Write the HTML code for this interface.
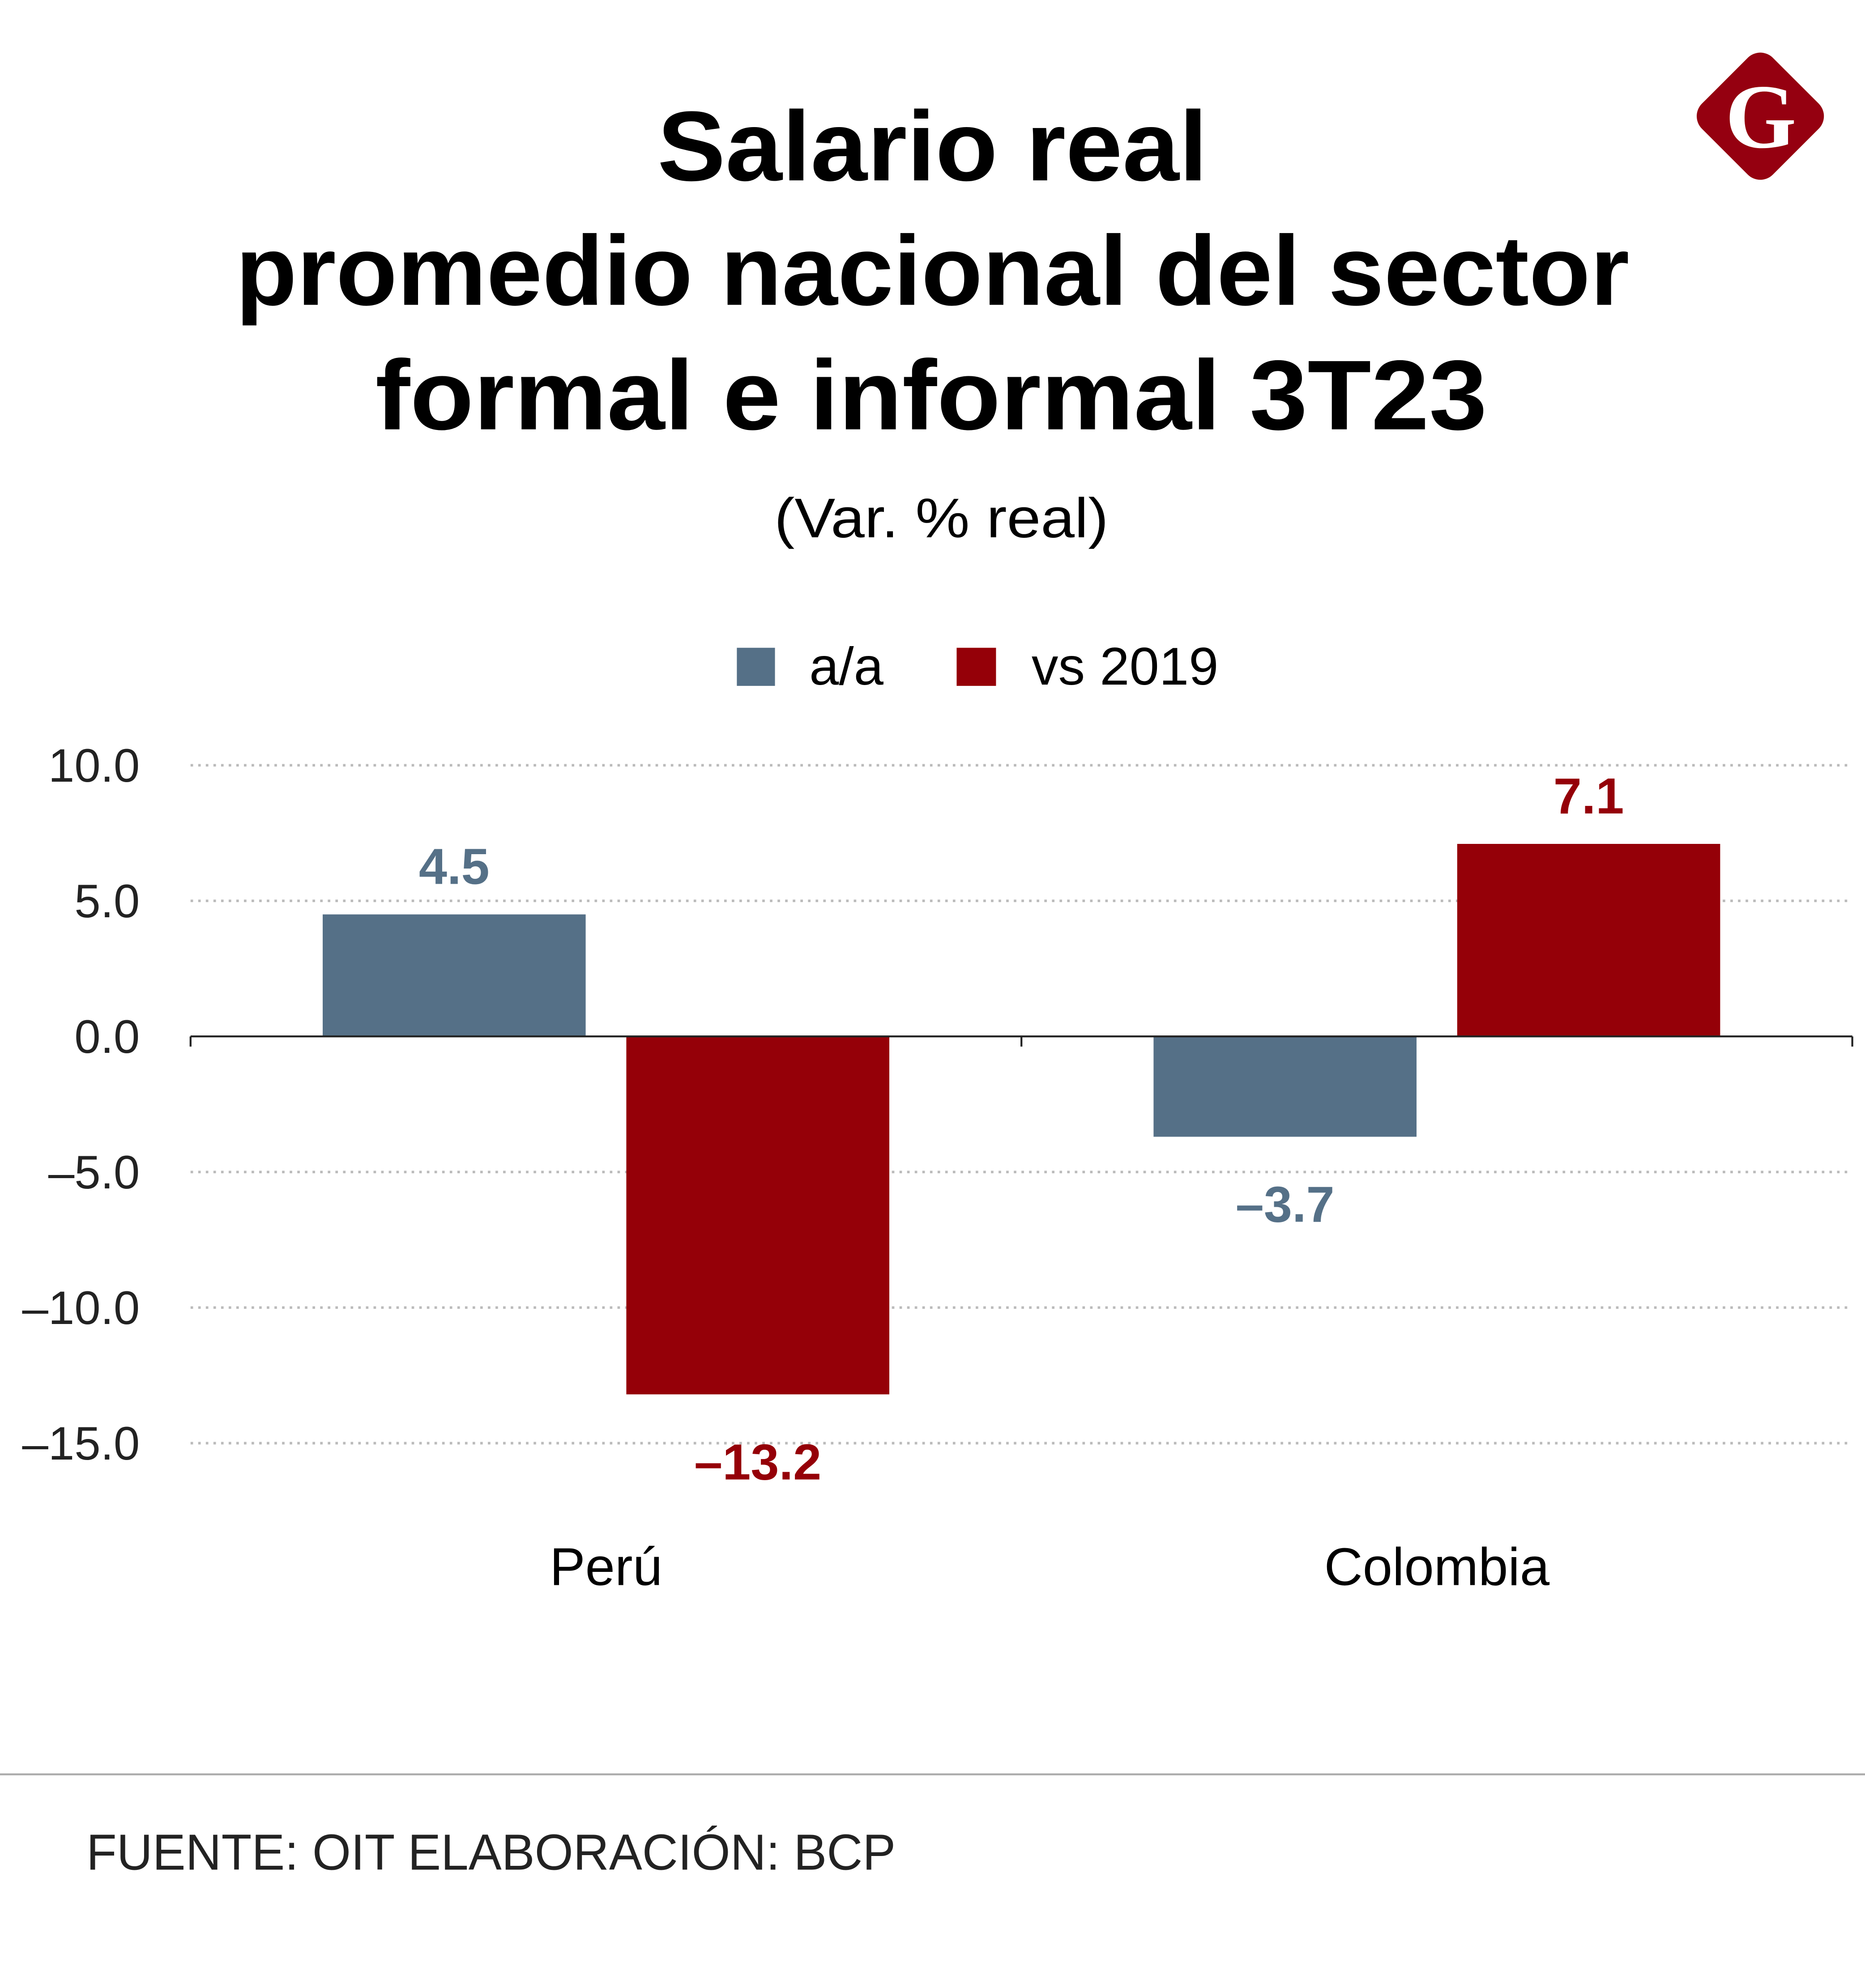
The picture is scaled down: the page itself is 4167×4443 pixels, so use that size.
<!DOCTYPE html>
<html><head><meta charset="utf-8"><style>
html,body{margin:0;padding:0;background:#fff}
svg{display:block}
text{font-family:"Liberation Sans",sans-serif}
</style></head><body>
<svg id="chart" width="4167" height="4443" viewBox="0 0 1468 1565.2" xmlns="http://www.w3.org/2000/svg">
<rect width="1468" height="1565.2" fill="#fff"/>
<g>
<rect x="1346" y="52" width="79" height="79" rx="14" fill="#950010" transform="rotate(45 1385.6 91.6)"/>
<text x="1386" y="116" text-anchor="middle" font-family="Liberation Serif,serif" font-weight="bold" font-size="72" fill="#fff" style="font-family:'Liberation Serif',serif">G</text>
</g>
<g font-weight="bold" fill="#000" text-anchor="middle">
<text x="734" y="142" font-size="78" textLength="433" lengthAdjust="spacingAndGlyphs">Salario real</text>
<text x="734" y="240" font-size="78" textLength="1097" lengthAdjust="spacingAndGlyphs">promedio nacional del sector</text>
<text x="733" y="338" font-size="78" textLength="875" lengthAdjust="spacingAndGlyphs">formal e informal 3T23</text>
</g>
<text x="741" y="423" font-size="44" text-anchor="middle" textLength="263" lengthAdjust="spacingAndGlyphs">(Var. % real)</text>
<g font-size="42">
<g><rect x="580" y="510" width="30" height="30" fill="#557087"/><text x="637" y="539">a/a</text></g>
<g><rect x="753" y="510" width="31" height="30" fill="#950008"/><text x="812" y="539">vs 2019</text></g>
</g>
<g id="plot"></g>
<line x1="0" y1="1397" x2="1468" y2="1397" stroke="#aaa" stroke-width="1.5"/>
<text x="68" y="1472" font-size="40" fill="#222" textLength="637" lengthAdjust="spacingAndGlyphs">FUENTE: OIT  ELABORACIÓN: BCP</text>
</svg>
<script>
const categories = ["Perú", "Colombia"];
const seriesAA = [4.5, -3.7];
const seriesVS = [-13.2, 7.1];
const yTicks = [10, 5, 0, -5, -10, -15];
const yTickLabels = ["10.0", "5.0", "0.0", "-5.0", "-10.0", "-15.0"];

const NS = "http://www.w3.org/2000/svg";
const plot = document.getElementById('plot');
const x0 = 150, x1 = 1458;
const y = v => 816 - v * 21.35;
const groupW = (x1 - x0) / categories.length;
const barW = 207;
function mk(tag, attrs, parent) {
  const e = document.createElementNS(NS, tag);
  for (const k in attrs) e.setAttribute(k, attrs[k]);
  (parent || plot).appendChild(e);
  return e;
}
yTicks.forEach((t, i) => {
  if (t !== 0) {
    const g = mk('line', {x1: x0, x2: 1455, y1: y(t), y2: y(t), stroke: '#bbb', 'stroke-width': 2, 'stroke-dasharray': '2 4'});
    
    
  }
  const lb = mk('text', {x: 110, y: y(t) + 13, 'font-size': 37, 'text-anchor': 'end', fill: '#222'});
  lb.textContent = yTickLabels[i].replace('-', '\u2013');
  
  
});
const series = [
  {vals: seriesAA, color: '#557087', off: 104, name: 'aa'},
  {vals: seriesVS, color: '#950008', off: 343, name: 'vs2019'}
];
categories.forEach((c, i) => {
  const gx = x0 + i * groupW;
  series.forEach(s => {
    const v = s.vals[i];
    const bx = gx + s.off;
    const r = mk('rect', {x: bx, y: Math.min(y(v), y(0)), width: barW, height: Math.abs(y(v) - y(0)), fill: s.color});
    
    
    const ly = v >= 0 ? y(v) - 24 : y(v) + 67;
    const t = mk('text', {x: bx + barW / 2, y: ly, 'font-size': 40, 'font-weight': 'bold', 'text-anchor': 'middle', fill: s.color});
    t.textContent = (v < 0 ? '\u2013' : '') + Math.abs(v).toFixed(1);
    
    
  });
  const cl = mk('text', {x: gx + groupW / 2, y: 1248, 'font-size': 42, 'text-anchor': 'middle', fill: '#000'});
  cl.textContent = c;
  
  
});
const ax = mk('line', {x1: x0, x2: x1, y1: y(0), y2: y(0), stroke: '#222', 'stroke-width': 1.5});


for (let i = 0; i <= categories.length; i++) {
  const tk = mk('line', {x1: x0 + i * groupW, x2: x0 + i * groupW, y1: y(0), y2: y(0) + 8, stroke: '#222', 'stroke-width': 1.5});
  
  
}
</script>
</body></html>
